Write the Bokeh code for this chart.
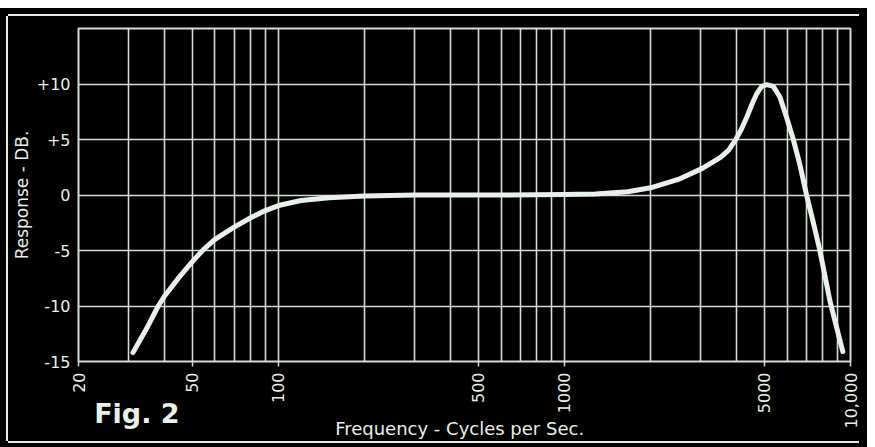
import math
from bokeh.plotting import figure
from bokeh.models import Range1d, FixedTicker, LogAxis
from bokeh.embed import file_html
from bokeh.resources import INLINE

# ---- data ----
freq_hz = [31, 35, 38, 40, 45, 50, 55, 60, 70, 80, 90, 100, 120, 150, 200, 300, 500,
           800, 1000, 1280, 1665, 2000, 2500, 3034, 3513, 3750, 3959, 4150, 4342,
           4520, 4703, 4894, 5093, 5372, 5665, 5972, 6296, 6637, 6999, 7400, 7800,
           8500, 9400]
response_db = [-14.2, -11.8, -10.0, -9.1, -7.4, -6.0, -4.85, -4.0, -2.9, -2.05, -1.4,
               -0.95, -0.5, -0.25, -0.1, 0.0, 0.0, 0.02, 0.05, 0.1, 0.3, 0.65, 1.4,
               2.4, 3.39, 4.05, 4.94, 5.9, 7.03, 8.15, 9.14, 9.79, 9.94, 9.79, 8.83,
               7.03, 5.09, 2.85, 0.15, -2.4, -4.9, -9.7, -14.1]

x_tick_values = [20, 50, 100, 500, 1000, 5000, 10000]
x_tick_labels = ["20", "50", "100", "500", "1000", "5000", "10,000"]
x_grid_values = [20, 30, 40, 50, 60, 70, 80, 90, 100, 200, 300, 400, 500, 600, 700,
                 800, 900, 1000, 2000, 3000, 4000, 5000, 6000, 7000, 8000, 9000, 10000]
y_tick_values = [-15, -10, -5, 0, 5, 10]
y_tick_labels = ["-15", "-10", "-5", "0", "+5", "+10"]
y_grid_values = [-15, -10, -5, 0, 5, 10, 15]

fig_caption = "Fig. 2"
fig_caption_at = 32          # frequency under which the caption is centred
x_title = "Frequency - Cycles per Sec."
x_title_at = 430             # frequency under which the axis title is centred
y_title = "Response - DB."

FG = "#e9efe9"
GRID = "#d4ddd4"
FONT = "DejaVu Sans"

p = figure(width=851, height=425, x_axis_type="log",
           x_range=Range1d(20, 10000), y_range=Range1d(-15, 15),
           output_backend="svg", toolbar_location=None,
           background_fill_color="black", border_fill_color="black",
           min_border_left=62, min_border_right=9, min_border_top=12,
           min_border_bottom=79)
p.styles = {"margin-left": "8px", "margin-top": "16px",
            "max-width": "none", "min-width": "851px",
            "background-color": "black",
            "box-shadow": "0px -2px 0px 0px #e6ece6, -2px 0px 0px 0px #e6ece6, "
                          "0px 2px 0px 0px #e6ece6, 0px 0px 0px 8px black"}

p.outline_line_color = GRID
p.outline_line_width = 2

p.xgrid.ticker = FixedTicker(ticks=x_grid_values)
p.ygrid.ticker = FixedTicker(ticks=y_grid_values)
for g in (p.xgrid, p.ygrid):
    g.grid_line_color = GRID
    g.grid_line_width = 1.6
    g.grid_line_alpha = 1.0

xa = p.xaxis[0]
xa.ticker = FixedTicker(ticks=x_tick_values, minor_ticks=[])
xa.major_label_overrides = dict(zip(x_tick_values, x_tick_labels))
xa.major_label_orientation = math.pi / 2
xa.axis_line_color = None
xa.major_tick_line_color = GRID
xa.major_tick_line_width = 1.5
xa.major_tick_out = 5
xa.major_tick_in = 0
xa.minor_tick_line_color = None
xa.major_label_standoff = 6
xa.major_label_text_color = FG
xa.major_label_text_font = FONT
xa.major_label_text_font_size = "16px"

ya = p.yaxis[0]
ya.ticker = FixedTicker(ticks=y_tick_values, minor_ticks=[])
ya.major_label_overrides = dict(zip(y_tick_values, y_tick_labels))
ya.axis_line_color = None
ya.major_tick_line_color = None
ya.major_tick_out = 0
ya.major_tick_in = 0
ya.minor_tick_line_color = None
ya.major_label_standoff = 8
ya.major_label_text_color = FG
ya.major_label_text_font = FONT
ya.major_label_text_font_size = "16px"
ya.axis_label = y_title
ya.axis_label_text_color = FG
ya.axis_label_text_font = FONT
ya.axis_label_text_font_style = "normal"
ya.axis_label_text_font_size = "17px"
ya.axis_label_standoff = 2


def text_axis(pos, text, size, style, standoff):
    ax = LogAxis(ticker=FixedTicker(ticks=[pos], minor_ticks=[]),
                 major_label_overrides={pos: text})
    ax.axis_line_color = None
    ax.major_tick_line_color = None
    ax.minor_tick_line_color = None
    ax.major_tick_out = 0
    ax.major_tick_in = 0
    ax.major_label_standoff = standoff
    ax.major_label_text_color = FG
    ax.major_label_text_font = FONT
    ax.major_label_text_font_size = size
    ax.major_label_text_font_style = style
    return ax


p.add_layout(text_axis(x_title_at, x_title, "18px", "normal", -14), "below")
p.add_layout(text_axis(fig_caption_at, fig_caption, "27px", "bold", -44), "below")

p.line(freq_hz, response_db, line_color=FG, line_width=5,
       line_join="round", line_cap="round")

open("out.html", "w").write(file_html(p, INLINE))
